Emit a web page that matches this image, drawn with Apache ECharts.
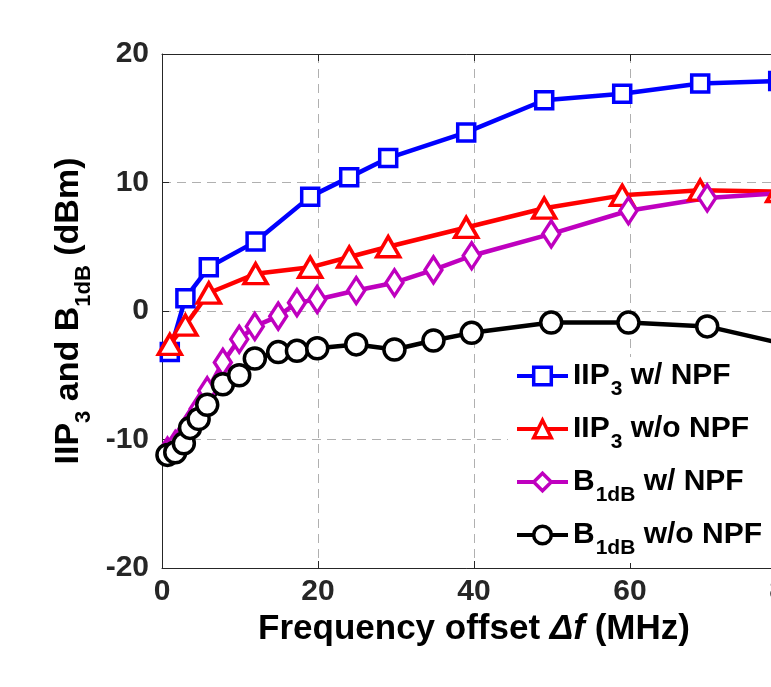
<!DOCTYPE html>
<html>
<head>
<meta charset="utf-8">
<script src="https://cdn.jsdelivr.net/npm/echarts@6/dist/echarts.min.js"></script>
<style>
html,body{margin:0;padding:0;background:#fff;}
#chart{width:771px;height:687px;}
</style>
</head>
<body>
<div id="chart"></div>
<script>
// ---- data ----
const xIIP3 = [1, 3, 6, 12, 19, 24, 29, 39, 49, 59, 69, 79];
const iip3WithNPF = [-3.2, 1.0, 3.4, 5.4, 8.9, 10.4, 11.9, 13.9, 16.4, 16.9, 17.7, 17.9];
const iip3WithoutNPF = [-2.6, -1.1, 1.4, 2.9, 3.4, 4.2, 5.0, 6.5, 8.0, 9.0, 9.4, 9.3];

const xB1dB = [0.7, 1.7, 2.8, 3.6, 4.7, 5.8, 7.8, 9.9, 11.9, 14.9, 17.3, 19.9, 24.9, 29.8, 34.8, 39.7, 49.9, 59.8, 69.9, 80];
const b1dbWithNPF = [-10.9, -10.4, -9.6, -8.7, -7.6, -6.2, -4.0, -2.2, -1.2, -0.4, 0.65, 0.9, 1.6, 2.2, 3.2, 4.3, 6.0, 7.8, 8.8, 9.2];
const b1dbWithoutNPF = [-11.2, -11.0, -10.3, -9.1, -8.4, -7.3, -5.7, -5.0, -3.7, -3.2, -3.1, -2.9, -2.6, -3.0, -2.3, -1.7, -0.9, -0.9, -1.2, -2.6];

const xTicks = [0, 20, 40, 60, 80];
const yTicks = [-20, -10, 0, 10, 20];

const seriesNames = ['IIP3 w/ NPF', 'IIP3 w/o NPF', 'B1dB w/ NPF', 'B1dB w/o NPF'];
const seriesColors = ['#0000FF', '#FF0000', '#BF00BF', '#000000'];
const seriesSymbols = ['rect', 'triangle', 'diamond', 'circle'];
const seriesSizes = [[17, 17], [23, 20], [17, 26], [21, 21]];
const legendRich = [
  '{a|IIP}{s|3}{a| w/ NPF}',
  '{a|IIP}{s|3}{a| w/o NPF}',
  '{a|B}{s|1dB}{a| w/ NPF}',
  '{a|B}{s|1dB}{a| w/o NPF}'
];

const FONT = "'Liberation Sans', Arial, Helvetica, sans-serif";
const TXT = '#262626';

function pairs(xs, ys) { return xs.map((x, i) => [x, ys[i]]); }
const seriesData = [
  pairs(xIIP3, iip3WithNPF),
  pairs(xIIP3, iip3WithoutNPF),
  pairs(xB1dB, b1dbWithNPF),
  pairs(xB1dB, b1dbWithoutNPF)
];

const chart = echarts.init(document.getElementById('chart'), null, {renderer: 'canvas'});

const option = {
  animation: false,
  backgroundColor: '#fff',
  grid: {left: 162, top: 54, width: 624, height: 514, containLabel: false, outerBoundsMode: 'none'},
  xAxis: [{
    type: 'value', min: xTicks[0], max: xTicks[xTicks.length - 1], interval: 20,
    position: 'bottom',
    name: '{t|Frequency offset }{i|Δf}{t| (MHz)}',
    nameLocation: 'middle', nameGap: 38,
    nameTextStyle: {
      rich: {
        t: {fontFamily: FONT, fontWeight: 'bold', fontSize: 35, color: '#000'},
        i: {fontFamily: FONT, fontWeight: 'bold', fontStyle: 'italic', fontSize: 35, color: '#000'}
      }
    },
    axisLine: {show: true, onZero: false, lineStyle: {color: TXT, width: 1}},
    axisTick: {show: true, inside: true, length: 7, lineStyle: {color: TXT}},
    axisLabel: {fontFamily: FONT, fontWeight: 'bold', fontSize: 30, color: TXT, margin: 9},
    splitLine: {show: true, lineStyle: {color: '#b0b0b0', type: [9, 6], width: 1}}
  }, {
    type: 'value', min: xTicks[0], max: xTicks[xTicks.length - 1], interval: 20,
    position: 'top',
    axisLine: {show: true, onZero: false, lineStyle: {color: TXT, width: 1}},
    axisTick: {show: true, inside: true, length: 7, lineStyle: {color: TXT}},
    axisLabel: {show: false},
    splitLine: {show: false}
  }],
  yAxis: {
    type: 'value', min: yTicks[0], max: yTicks[yTicks.length - 1], interval: 10,
    name: '{a|IIP}{s|3}{a| and B}{s|1dB}{a| (dBm)}',
    nameLocation: 'middle', nameGap: 64, nameRotate: 90,
    nameTextStyle: {
      rich: {
        a: {fontFamily: FONT, fontWeight: 'bold', fontSize: 34, color: '#000', lineHeight: 35, verticalAlign: 'top'},
        s: {fontFamily: FONT, fontWeight: 'bold', fontSize: 22, color: '#000', lineHeight: 22, verticalAlign: 'top', padding: [21, 0, 0, 0]}
      }
    },
    axisLine: {show: true, onZero: false, lineStyle: {color: TXT, width: 1}},
    axisTick: {show: true, inside: true, length: 7, lineStyle: {color: TXT}},
    axisLabel: {fontFamily: FONT, fontWeight: 'bold', fontSize: 30, color: TXT, margin: 13},
    splitLine: {show: true, lineStyle: {color: '#b0b0b0', type: [9, 6], width: 1}}
  },
  legend: {
    orient: 'vertical',
    left: 508, top: 357,
    backgroundColor: '#fff',
    padding: [4, 20, 4, 7],
    itemWidth: 51, itemHeight: 22, itemGap: 14,
    data: seriesNames,
    lineStyle: {width: 4},
    itemStyle: {borderWidth: 3.5},
    formatter: function (name) { return legendRich[seriesNames.indexOf(name)]; },
    textStyle: {
      padding: [0, 0, 0, 0],
      rich: {
        a: {fontFamily: FONT, fontWeight: 'bold', fontSize: 30, color: '#000', lineHeight: 30, verticalAlign: 'top'},
        s: {fontFamily: FONT, fontWeight: 'bold', fontSize: 21, color: '#000', lineHeight: 21, verticalAlign: 'top', padding: [18, 0, 0, 1]}
      }
    }
  },
  series: seriesNames.map((n, i) => ({
    name: n,
    type: 'line',
    data: seriesData[i],
    symbol: seriesSymbols[i],
    symbolSize: seriesSizes[i],
    showAllSymbol: true,
    clip: false,
    lineStyle: {color: seriesColors[i], width: 4.5},
    itemStyle: {color: '#fff', borderColor: seriesColors[i], borderWidth: 3.5}
  }))
};
chart.setOption(option);
</script>
</body>
</html>
